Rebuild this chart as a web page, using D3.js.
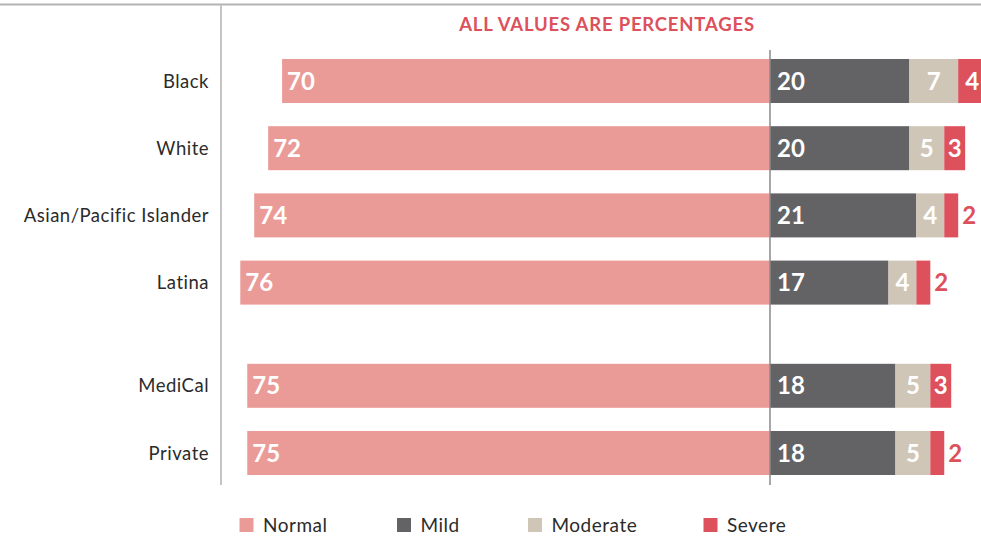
<!DOCTYPE html>
<html>
<head>
<meta charset="utf-8">
<script src="https://cdn.jsdelivr.net/npm/d3@7"></script>
<style>
  html, body { margin: 0; padding: 0; background: #fff; }
  svg { display: block; font-family: Lato, "Open Sans", sans-serif; }
</style>
</head>
<body>
<svg id="chart" width="981" height="542"></svg>
<script>
// Categories and their grouping (race/ethnicity, then insurance type)
const categories = ["Black", "White", "Asian/Pacific Islander", "Latina", "MediCal", "Private"];
const groups     = [0, 0, 0, 0, 1, 1];

// Series values (percent)
const normal   = [70, 72, 74, 76, 75, 75];
const mild     = [20, 20, 21, 17, 18, 18];
const moderate = [7, 5, 4, 4, 5, 5];
const severe   = [4, 3, 2, 2, 3, 2];

const seriesNames = ["Normal", "Mild", "Moderate", "Severe"];
const seriesColors = ["#eb9b97", "#636366", "#d0c6b7", "#dc515c"];
const titleText = "ALL VALUES ARE PERCENTAGES";

const svg = d3.select("#chart");
const W = 981, H = 542;

// Horizontal scale: Normal extends left of zero, the rest stack to the right
const x = d3.scaleLinear().domain([-100, 100]).range([73, 1467]);
const x0 = x(0);

// Vertical layout: one slot per category, extra gap between the two groups
const barH = 44, rowStep = 67.2, groupGap = 36, firstRowY = 59;
const yScale = d3.scaleLinear().domain([0, 1]).range([firstRowY, firstRowY + rowStep]);
const y = i => yScale(i) + groups[i] * groupGap;

const color = d3.scaleOrdinal().domain(seriesNames).range(seriesColors);

// Frame lines
svg.append("line").attr("x1", 0).attr("x2", W).attr("y1", 4.5).attr("y2", 4.5)
  .attr("stroke", "#b3b3b3").attr("stroke-width", 2);
svg.append("line").attr("x1", 221).attr("x2", 221).attr("y1", 5).attr("y2", 485)
  .attr("stroke", "#c4c4c4").attr("stroke-width", 2);

// Title
svg.append("text").attr("x", 607).attr("y", 31).attr("text-anchor", "middle")
  .attr("fill", "#dc515c").attr("font-size", 18.5).attr("font-weight", 700)
  .attr("letter-spacing", 0.8)
  .text(titleText);

// Build stacked segments
const rows = categories.map((c, i) => {
  const segs = [];
  segs.push({ key: "Normal", x1: -normal[i], x2: 0, v: normal[i] });
  let acc = 0;
  [["Mild", mild[i]], ["Moderate", moderate[i]], ["Severe", severe[i]]].forEach(([k, v]) => {
    segs.push({ key: k, x1: acc, x2: acc + v, v });
    acc += v;
  });
  return { cat: c, i, segs };
});

const row = svg.selectAll("g.row").data(rows).join("g").attr("class", "row")
  .attr("transform", d => `translate(0,${y(d.i)})`);

// Category labels
row.append("text").attr("x", 209).attr("y", barH / 2).attr("dy", "0.36em")
  .attr("text-anchor", "end").attr("fill", "#2b2b2b").attr("font-size", 18.5)
  .attr("letter-spacing", 0.5)
  .text(d => d.cat);

// Bars
row.selectAll("rect").data(d => d.segs).join("rect")
  .attr("x", s => x(s.x1)).attr("width", s => x(s.x2) - x(s.x1))
  .attr("y", 0).attr("height", barH)
  .attr("fill", s => color(s.key));

// Value labels
row.selectAll("text.val").data(d => d.segs).join("text").attr("class", "val")
  .attr("y", barH / 2).attr("dy", "0.36em")
  .attr("font-size", 24).attr("font-weight", 700)
  .each(function (s) {
    const t = d3.select(this);
    const w = x(s.x2) - x(s.x1);
    if (s.key === "Normal") {
      t.attr("x", x(s.x1) + 5).attr("text-anchor", "start").attr("fill", "#fff");
    } else if (s.key === "Mild") {
      t.attr("x", x(s.x1) + 7).attr("text-anchor", "start").attr("fill", "#fff");
    } else if (w >= 20) {
      t.attr("x", (x(s.x1) + x(s.x2)) / 2).attr("text-anchor", "middle").attr("fill", "#fff");
    } else {
      t.attr("x", x(s.x2) + 4).attr("text-anchor", "start").attr("fill", "#dc515c");
    }
  })
  .text(s => s.v);

// Zero line
svg.append("line").attr("x1", x0).attr("x2", x0).attr("y1", 50).attr("y2", 485)
  .attr("stroke", "#8a8a8a").attr("stroke-width", 1.5);

// Legend
const legendX = [239.5, 397, 528, 703.5];
const lg = svg.selectAll("g.legend").data(seriesNames).join("g").attr("class", "legend")
  .attr("transform", (d, i) => `translate(${legendX[i]},518)`);
lg.append("rect").attr("width", 14).attr("height", 14).attr("fill", d => color(d));
lg.append("text").attr("x", 23.5).attr("y", 14).attr("font-size", 19)
  .attr("letter-spacing", 0.5)
  .attr("fill", "#2b2b2b").text(d => d);
</script>
</body>
</html>
